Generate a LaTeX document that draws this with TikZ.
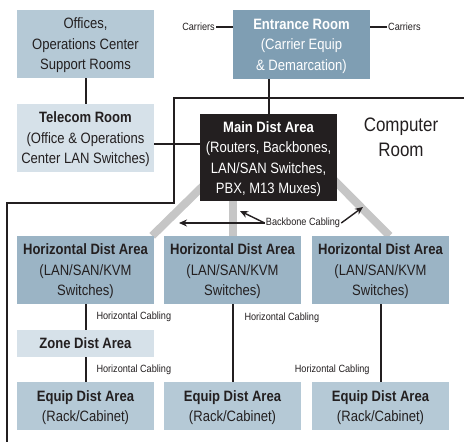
\documentclass[tikz,border=0pt]{standalone}
\usepackage{fontspec}
\setmainfont{Liberation Sans}[FakeStretch=0.87]
\usepackage{tikz}
\usetikzlibrary{arrows.meta}
\usetikzlibrary{calc}
\usetikzlibrary{backgrounds}
\definecolor{ink}{HTML}{231F20}
\definecolor{boxblue}{HTML}{B5C9D6}
\definecolor{paleblue}{HTML}{D6E1E9}
\definecolor{hdablue}{HTML}{9BB4C5}
\definecolor{entryblue}{HTML}{7F9EB3}
\definecolor{backbonegray}{HTML}{C6C6C6}
% a short text depth keeps the lines a little low in their box
\tikzset{basic/.style={rectangle,text=ink,align=center,inner sep=0pt,
                       minimum width=137pt,font=\fontsize{15}{20.5}\selectfont,
                       text depth=-1.8pt}}
\tikzset{darkbox/.style={basic,fill=ink,text=white}}
\tikzset{cablelabel/.style={text=ink,inner sep=1pt,font=\fontsize{10.5}{12}\selectfont}}

\begin{document}
\begin{tikzpicture}[x=1pt,y=-1pt,>={Stealth[length=8pt,width=7pt]}]
  \tikzstyle{wire}=[draw=ink,line width=2pt]
  \tikzstyle{arrow}=[draw=ink,line width=1.4pt]
  \tikzstyle{backbone}=[draw=backbonegray,line width=8pt]
  \useasboundingbox (0,0) rectangle (464,442);

  % Rooms outside the computer room
  \node (offices)  [basic,fill=boxblue,minimum height=68pt,text depth=-7.8pt] at (85.5,44)
        {Offices,\\Operations Center\\Support Rooms};
  \node (telecom)  [basic,fill=paleblue,minimum height=68pt] at (85.5,138)
        {\textbf{Telecom Room}\\(Office \& Operations\\Center LAN Switches)};
  \node (entrance) [basic,fill=entryblue,text=white,minimum height=69pt] at (301.5,44.5)
        {\textbf{Entrance Room}\\(Carrier Equip\\\& Demarcation)};

  % Main and horizontal distribution
  \node (mda)   [darkbox,minimum height=87pt] at (268.5,157.5)
        {\textbf{Main Dist Area}\\(Routers, Backbones,\\LAN/SAN Switches,\\PBX, M13 Muxes)};
  \node (hda_1) [basic,fill=hdablue,minimum height=68pt] at (85.5,270)
        {\textbf{Horizontal Dist Area}\\(LAN/SAN/KVM\\Switches)};
  \node (hda_2) [basic,fill=hdablue,minimum height=68pt] at (232.5,270)
        {\textbf{Horizontal Dist Area}\\(LAN/SAN/KVM\\Switches)};
  \node (hda_3) [basic,fill=hdablue,minimum height=68pt] at (380.5,270)
        {\textbf{Horizontal Dist Area}\\(LAN/SAN/KVM\\Switches)};
  \node (zone)  [basic,fill=paleblue,minimum height=27pt] at (85.5,343.5)
        {\textbf{Zone Dist Area}};

  % Equipment rows
  \node (eda_1) [basic,fill=boxblue,minimum height=48pt] at (85.5,406)
        {\textbf{Equip Dist Area}\\(Rack/Cabinet)};
  \node (eda_2) [basic,fill=boxblue,minimum height=48pt] at (232.5,406)
        {\textbf{Equip Dist Area}\\(Rack/Cabinet)};
  \node (eda_3) [basic,fill=boxblue,minimum height=48pt] at (380.5,406)
        {\textbf{Equip Dist Area}\\(Rack/Cabinet)};

  \node (room) [text=ink,align=center,font=\fontsize{19.5}{25.5}\selectfont]
        at (401,137.3) {Computer\\Room};

  % Carriers coming into the entrance room
  \node (carr_l) [cablelabel,anchor=east] at (216,27) {Carriers};
  \node (carr_r) [cablelabel,anchor=west] at (387,27) {Carriers};
  \draw[wire,line width=2.5pt] (carr_l.east) -- (carr_l.east -| entrance.west);
  \draw[wire,line width=2.5pt] (carr_r.west) -- (carr_r.west -| entrance.east);

  % Outline of the computer room
  \coordinate (room_ne) at (464,98);
  \coordinate (room_step) at (174,203);
  \coordinate (room_sw) at (7,442);
  \draw[wire] (room_ne) -| (room_step) -| (room_sw);

  % Backbone cabling runs behind the boxes
  \begin{scope}[on background layer]
    \draw[backbone] ($(hda_1.north east)+(-2,0)$) -- ($(mda.south west)+(6,-18)$);
    \draw[backbone] (hda_2.north) -- (hda_2.north |- mda.south);
    \draw[backbone] ($(hda_3.north)+(9,0)$) -- ($(mda.south east)+(-7,-25)$);
  \end{scope}

  \node (backbone) [cablelabel] at (303,223) {Backbone Cabling};
  \coordinate (bb_w)  at (179,223);
  \coordinate (bb_nw) at (240,211);
  \coordinate (bb_ne) at (363,207);
  \draw[->,arrow] (backbone.west) -- (bb_w);
  \draw[->,arrow] (backbone.west) -- (bb_nw);
  \draw[->,arrow] (backbone.east) -- (bb_ne);

  % The rooms are now connected through cabling:
  \coordinate (lan_link) at ($(telecom.east)+(0,6)$);
  \draw[wire] (lan_link) -- (lan_link -| mda.west);
  \draw[wire] (mda.north) -- (mda.north |- entrance.south);
  \path[wire]
    (offices) edge (telecom)
    (hda_1) edge node[cablelabel,right=9pt]{Horizontal Cabling} (zone)
    (zone) edge node[cablelabel,right=9pt]{Horizontal Cabling} (eda_1)
    (hda_2) edge node[cablelabel,pos=0.18,right=10pt]{Horizontal Cabling} (eda_2)
    (hda_3) edge node[cablelabel,pos=0.85,left=9pt]{Horizontal Cabling} (eda_3)
    ;
\end{tikzpicture}
\end{document}
